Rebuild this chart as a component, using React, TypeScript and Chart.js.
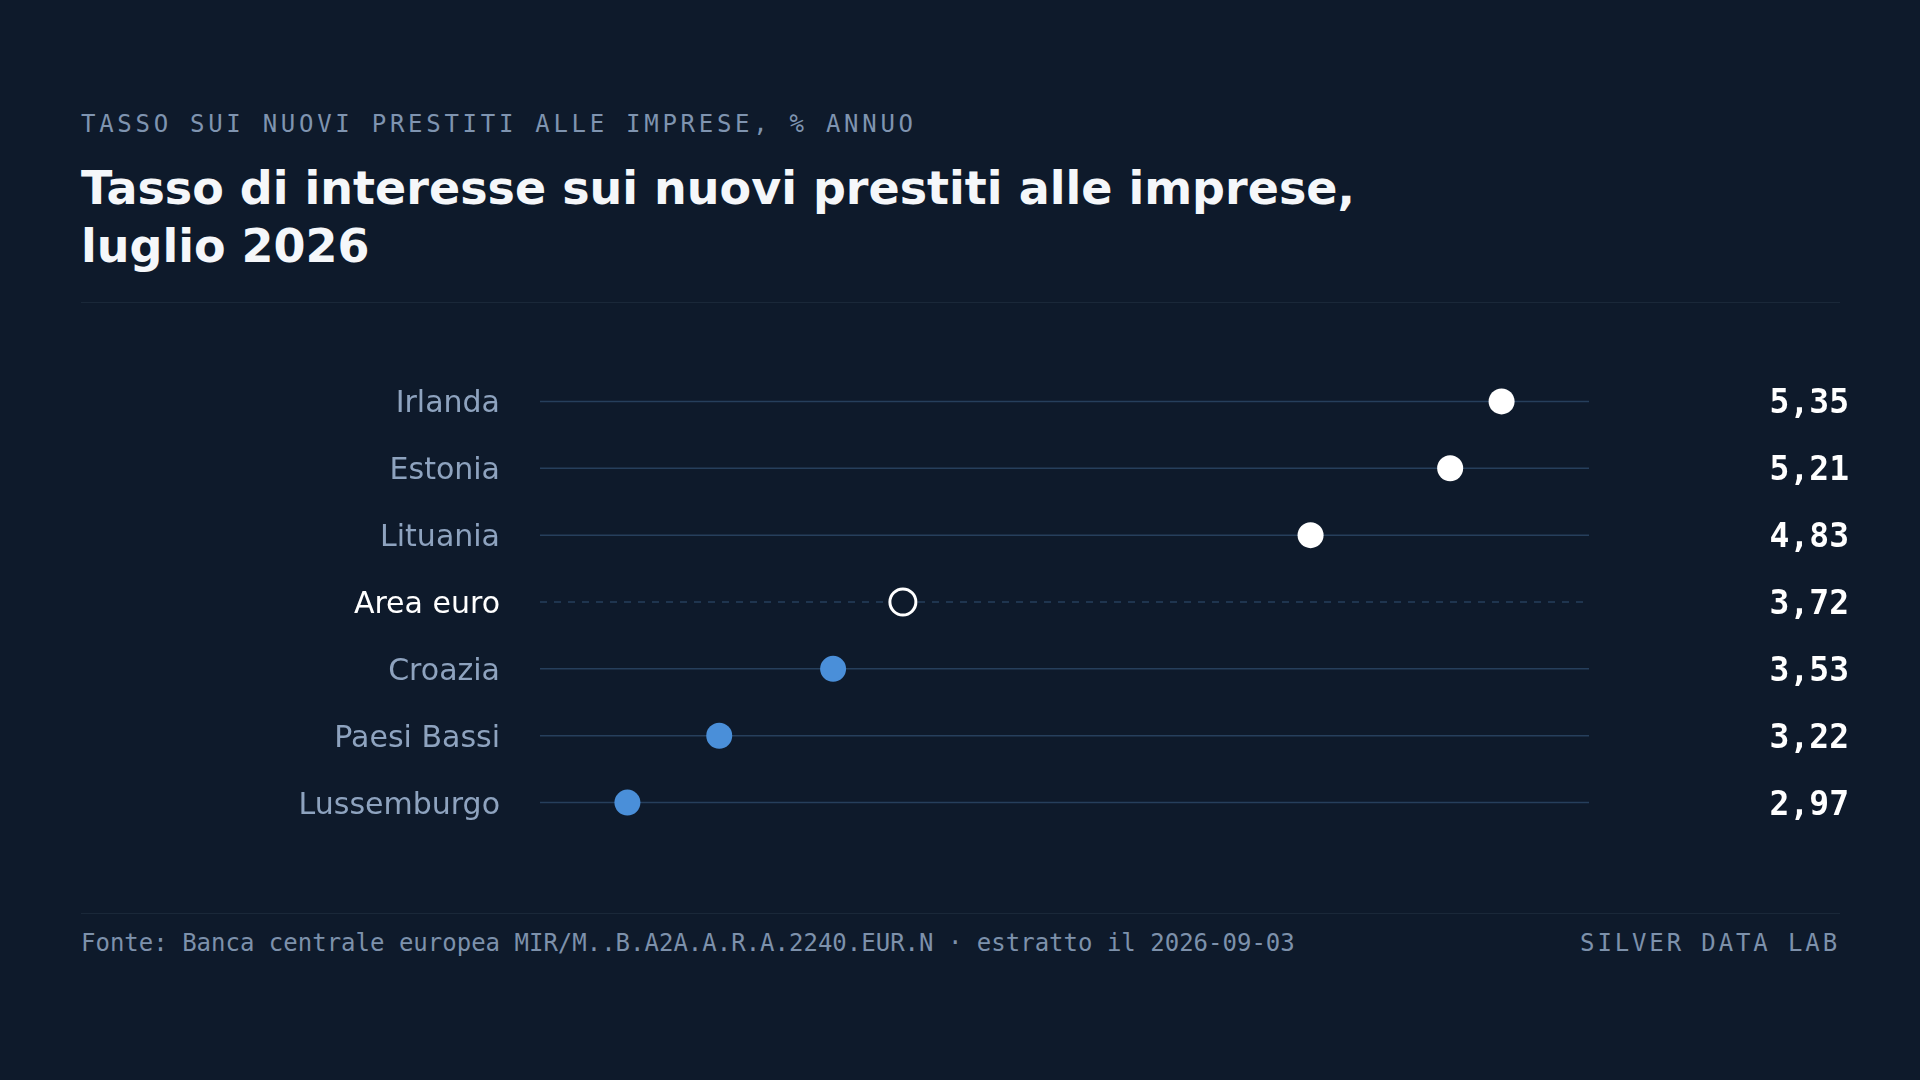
import React, { useEffect, useRef } from "react";
import { Chart, registerables } from "chart.js";

Chart.register(...registerables);

const countries = ["Irlanda", "Estonia", "Lituania", "Area euro", "Croazia", "Paesi Bassi", "Lussemburgo"];
const rates = [5.35, 5.21, 4.83, 3.72, 3.53, 3.22, 2.97];
const referenceLabel = "Area euro";

const BG = "#0e1a2b";
const LABEL = "#8ea3bf";
const BLUE = "#4a8fd9";
const WHITE = "#ffffff";
const ROW_LINE = "#263f5c";

const LABEL_FONT = "30px 'DejaVu Sans', sans-serif";
const VALUE_FONT = "bold 33px 'DejaVu Sans Mono', monospace";

const fmt = (v: number) => v.toFixed(2).replace(".", ",");

const rowLines = {
  id: "rowLines",
  beforeDatasetsDraw(chart: any) {
    const { ctx, chartArea, scales } = chart;
    const y = scales.y;
    ctx.save();
    countries.forEach((c, i) => {
      const py = y.getPixelForValue(i);
      ctx.beginPath();
      ctx.lineWidth = 1.5;
      ctx.strokeStyle = ROW_LINE;
      ctx.setLineDash(c === referenceLabel ? [7, 7] : []);
      ctx.moveTo(chartArea.left, py);
      ctx.lineTo(chartArea.right, py);
      ctx.stroke();
    });
    ctx.restore();
  },
  afterDraw(chart: any) {
    const { ctx, chartArea, scales } = chart;
    const y = scales.y;
    const y2 = scales.y2;
    ctx.save();
    ctx.textBaseline = "alphabetic";
    countries.forEach((c, i) => {
      const py = y.getPixelForValue(i);
      ctx.font = LABEL_FONT;
      ctx.textAlign = "right";
      ctx.fillStyle = c === referenceLabel ? WHITE : LABEL;
      ctx.fillText(c, chartArea.left - 40, py + 11);
      ctx.font = VALUE_FONT;
      ctx.fillStyle = WHITE;
      ctx.fillText(fmt(rates[i]), y2.right, py + 12);
    });
    ctx.restore();
  },
};

function DotChart() {
  const ref = useRef<HTMLCanvasElement | null>(null);
  useEffect(() => {
    if (!ref.current) return;
    const refVal = rates[countries.indexOf(referenceLabel)];
    const min = Math.min(...rates);
    const max = Math.max(...rates);
    const pad = (max - min) * 0.1;
    const isRef = (i: number) => countries[i] === referenceLabel;
    const chart = new Chart(ref.current, {
      type: "line",
      data: {
        labels: countries,
        datasets: [
          {
            data: rates,
            showLine: false,
            pointRadius: 13,
            pointHoverRadius: 13,
            pointBackgroundColor: rates.map((v, i) => (isRef(i) ? BG : v > refVal ? WHITE : BLUE)),
            pointBorderColor: rates.map((v, i) => (isRef(i) ? WHITE : v > refVal ? WHITE : BLUE)),
            pointBorderWidth: rates.map((_, i) => (isRef(i) ? 3 : 0)),
          },
        ],
      },
      plugins: [rowLines],
      options: {
        indexAxis: "y",
        animation: false,
        responsive: true,
        maintainAspectRatio: false,
        layout: { padding: { left: 81, right: 71, top: 28, bottom: 34 } },
        plugins: { legend: { display: false }, tooltip: { enabled: false } },
        scales: {
          x: { type: "linear", display: false, min: min - pad, max: max + pad },
          y: {
            type: "category",
            position: "left",
            offset: true,
            grid: { display: false, drawTicks: false },
            border: { display: false },
            ticks: { display: false },
            afterFit: (s: any) => {
              s.width = 459;
              s.paddingTop = 0;
              s.paddingBottom = 0;
            },
          },
          y2: {
            type: "category",
            position: "right",
            labels: rates.map(fmt),
            offset: true,
            grid: { display: false, drawTicks: false },
            border: { display: false },
            ticks: { display: false },
            afterFit: (s: any) => {
              s.width = 260;
              s.paddingTop = 0;
              s.paddingBottom = 0;
            },
          },
        },
      },
    } as any);
    return () => chart.destroy();
  }, []);
  return <canvas ref={ref} />;
}

export default function App() {
  return (
    <div style={{ position: "fixed", left: 0, top: 0, width: 1920, height: 1080, background: BG, overflow: "hidden" }}>
      <div
        style={{
          position: "absolute",
          left: 81,
          top: 112,
          fontFamily: "'DejaVu Sans Mono', monospace",
          fontSize: 24,
          lineHeight: "24px",
          letterSpacing: "0.155em",
          color: "#7f94b0",
          whiteSpace: "nowrap",
        }}
      >
        TASSO SUI NUOVI PRESTITI ALLE IMPRESE, % ANNUO
      </div>
      <div
        style={{
          position: "absolute",
          left: 81,
          top: 160,
          width: 1350,
          fontFamily: "'DejaVu Sans', sans-serif",
          fontWeight: "bold",
          fontSize: 46,
          lineHeight: "57.5px",
          color: "#f5f7fa",
        }}
      >
        Tasso di interesse sui nuovi prestiti alle imprese, luglio 2026
      </div>
      <div style={{ position: "absolute", left: 81, top: 302, width: 1759, height: 1, background: "#1a2839" }} />
      <div style={{ position: "absolute", left: 0, top: 340, width: 1920, height: 530 }}>
        <DotChart />
      </div>
      <div style={{ position: "absolute", left: 81, top: 913, width: 1759, height: 1, background: "#1a2839" }} />
      <div
        style={{
          position: "absolute",
          left: 81,
          top: 931,
          width: 1759,
          display: "flex",
          justifyContent: "space-between",
          fontFamily: "'DejaVu Sans Mono', monospace",
          fontSize: 24,
          lineHeight: "24px",
          color: "#7d91ab",
          whiteSpace: "nowrap",
        }}
      >
        <span>Fonte: Banca centrale europea MIR/M..B.A2A.A.R.A.2240.EUR.N · estratto il 2026-09-03</span>
        <span style={{ letterSpacing: "0.12em" }}>SILVER DATA LAB</span>
      </div>
    </div>
  );
}
